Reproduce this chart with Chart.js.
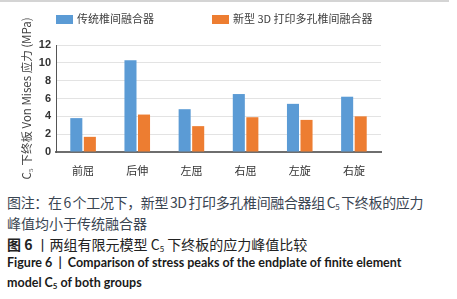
<!DOCTYPE html>
<html>
<head>
<meta charset="utf-8">
<script src="https://cdn.jsdelivr.net/npm/chart.js@4.4.0/dist/chart.umd.min.js"></script>
<style>
  body { margin: 0; background: #fff; width: 457px; height: 299px; overflow: hidden; position: relative; }
  .rule { position: absolute; left: 0; top: 0; width: 449px; height: 2px; background: #d4d4d4; }
  #wrap { position: absolute; left: 0; top: 0; width: 457px; height: 180px; }
  .legend { position: absolute; top: 11px; font: 11px "Noto Sans CJK SC", sans-serif; color: #404040; line-height: 14px; }
  .legend i { display: inline-block; width: 17px; height: 9px; margin-right: 4px; vertical-align: -1px; }
  .cap { position: absolute; left: 7px; white-space: nowrap; line-height: 16px; }
  .zh { font: 14px "Noto Sans CJK SC", sans-serif; color: #3a4552; }
  .en { font: bold 12.5px Lato, sans-serif; color: #1a1a1a; }
  sub { font-size: 8px; vertical-align: -2px; line-height: 0; }
</style>
</head>
<body>
<div class="rule"></div>
<div id="wrap"><canvas id="chart" width="457" height="180"></canvas></div>
<div class="cap zh" style="top:192px;letter-spacing:-0.35px;word-spacing:-1px">图注：在 6 个工况下，新型 3D 打印多孔椎间融合器组 C<sub>5</sub> 下终板的应力</div>
<div class="cap zh" style="top:213px">峰值均小于传统融合器</div>
<div class="cap zh" style="top:234px;color:#222"><b>图 6</b> 丨两组有限元模型 C<sub>5</sub> 下终板的应力峰值比较</div>
<div class="cap en" style="top:255px">Figure 6 &nbsp;|&nbsp; Comparison of stress peaks of the endplate of finite element</div>
<div class="cap en" style="top:275px">model C<sub>5</sub> of both groups</div>
<script>
// categories and values (MPa)
const categories = ['前屈', '后伸', '左屈', '右屈', '左旋', '右旋'];
const traditional = [3.8, 10.3, 4.8, 6.5, 5.4, 6.2];
const printed3d = [1.7, 4.2, 2.9, 3.9, 3.6, 4.0];
const yTicks = [0, 2, 4, 6, 8, 10, 12];

const seriesNames = ['传统椎间融合器', '新型 3D 打印多孔椎间融合器'];
const seriesColors = ['#5b9bd5', '#ed7d31'];

// simple html legend so the spacing can match the figure
const legendX = [56, 212];
seriesNames.forEach((name, i) => {
    const item = document.createElement('div');
    item.className = 'legend';
    item.style.left = legendX[i] + 'px';
    item.innerHTML = '<i style="background:' + seriesColors[i] + '"></i>' + name;
    document.body.appendChild(item);
});

const ctx = document.getElementById('chart').getContext('2d');
new Chart(ctx, {
    type: 'bar',
    data: {
        labels: categories,
        datasets: [{
            label: seriesNames[0],
            data: traditional,
            backgroundColor: seriesColors[0]
        }, {
            label: seriesNames[1],
            data: printed3d,
            backgroundColor: seriesColors[1]
        }]
    },
    options: {
        responsive: false,
        animation: false,
        categoryPercentage: 0.5,
        barPercentage: 0.89,
        layout: { padding: { left: 14, top: 45, right: 76, bottom: 0 } },
        plugins: {
            legend: { display: false },
            tooltip: { enabled: false }
        },
        scales: {
            x: {
                grid: { display: false },
                border: { color: '#6e6e6e', width: 2 },
                ticks: { color: '#333', padding: 4, font: { family: 'Noto Sans CJK SC', size: 11 } },
                afterFit: scale => { scale.height = 28; }
            },
            y: {
                min: 0,
                max: 12,
                afterBuildTicks: scale => { scale.ticks = yTicks.map(v => ({ value: v })); },
                grid: { color: '#e3e3e3', drawTicks: false },
                border: { color: '#555', width: 1 },
                ticks: { color: '#333', padding: 5, font: { family: 'Liberation Sans', size: 11, weight: 'bold' } },
                title: {
                    display: true,
                    text: 'C₅ 下终板 Von Mises 应力 (MPa)',
                    color: '#404040',
                    padding: { top: 6, bottom: 0 },
                    font: { family: 'Noto Sans CJK SC', size: 11.5 }
                },
                afterFit: scale => { scale.width = 42; }
            }
        }
    }
});
</script>
</body>
</html>
